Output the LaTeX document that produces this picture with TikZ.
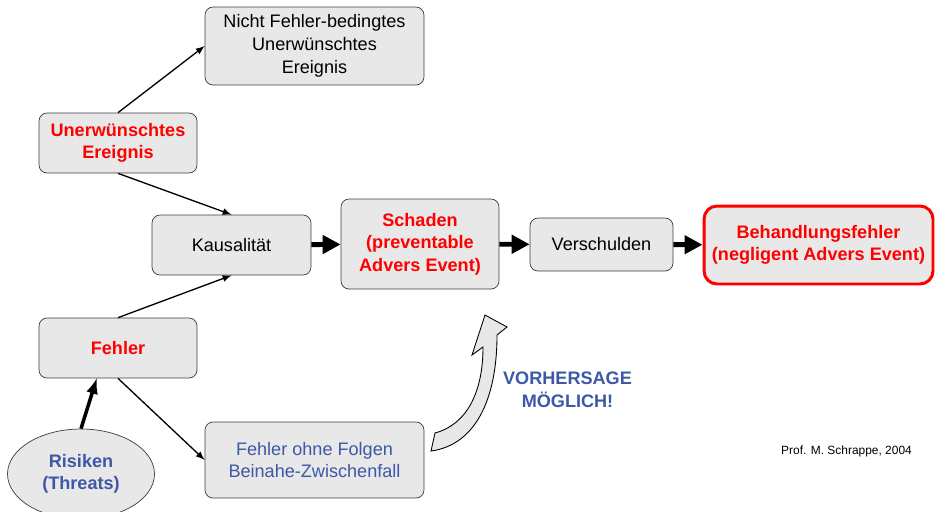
\documentclass[tikz,border=0pt]{standalone}
\usepackage{fontspec}
\setmainfont{Liberation Sans}
\usepackage{tikz}
\usetikzlibrary{arrows,arrows.meta,shapes.geometric}
\definecolor{boxgray}{RGB}{232,232,232}
\definecolor{framegray}{RGB}{60,60,60}
\definecolor{vblue}{RGB}{60,88,166}

\begin{document}
\begin{tikzpicture}[>=latex, x=0.02cm, y=-0.02cm,
		txt/.style={font=\fontsize{10.3}{13}\selectfont},
		box/.style={txt, draw=framegray, fill=boxgray, rounded corners=0.16cm, align=center, inner sep=0pt},
		warn/.style={text=red, font=\fontsize{10.3}{12.8}\selectfont\bfseries},
		hint/.style={text=vblue},
		thin arrow/.style={->, line width=0.75pt},
		fat arrow/.style={line width=2.8pt, -{Triangle[length=0.36cm,width=0.36cm]}}]
		%			\draw [help lines] (0,0) grid (935,511);
		\useasboundingbox (0,0) rectangle (935,511);
		\node [box, minimum width=4.38cm, minimum height=1.56cm] (nicht) at (314.5,46) {Nicht Fehler-bedingtes\\Unerwünschtes\\Ereignis};
		\node [box, warn, minimum width=3.16cm, minimum height=1.2cm] (unerw) at (118,143) {Unerwünschtes\\Ereignis};
		\node [box, minimum width=3.18cm, minimum height=1.2cm] (kaus) at (231.5,245) {Kausalität};
		\node [box, warn, minimum width=3.16cm, minimum height=1.8cm] (schaden) at (420,244) {Schaden\\(preventable\\Advers Event)};
		\node [box, minimum width=2.86cm, minimum height=1.06cm] (versch) at (601.5,244.5) {Verschulden};
		\node [box, warn, draw=red, line width=1.7pt, rounded corners=0.26cm, minimum width=4.58cm, minimum height=1.56cm] (behand) at (818.5,245) {Behandlungsfehler\\(negligent Advers Event)};
		\node [box, warn, minimum width=3.16cm, minimum height=1.2cm] (fehler) at (118,348) {Fehler};
		\node [box, warn, hint, ellipse, minimum width=2.94cm, minimum height=1.8cm] (risiken) at (81,474) {Risiken\\(Threats)};
		\node [box, hint, minimum width=4.38cm, minimum height=1.52cm] (ohne) at (314.5,460) {Fehler ohne Folgen\\Beinahe-Zwischenfall};
		\node [txt, hint, font=\fontsize{10.3}{12.8}\selectfont\bfseries, align=center] (vorher) at (567.5,390) {VORHERSAGE\\MÖGLICH!};
		\node [font=\fontsize{6.8}{8}\selectfont] (prof) at (846.5,451) {Prof. M. Schrappe, 2004};
		% duenne Pfeile
		\draw [thin arrow] (unerw.north) -- (nicht.west);
		\draw [thin arrow] (unerw.south) -- (kaus.north);
		\draw [thin arrow] (fehler.north) -- (kaus.south);
		\draw [thin arrow] (fehler.south) -- (ohne.west);
		\draw [->, line width=2pt] (risiken.north) -- (fehler.-125);
		% dicke Pfeile
		\draw [fat arrow] (kaus) -- (schaden);
		\draw [fat arrow] (schaden) -- (versch);
		\draw [fat arrow] (versch) -- (behand);
		% gebogener Blockpfeil
		\draw [line width=0.5pt, fill=boxgray] (431,451) .. controls (475,445) and (497,400) .. (497,335) -- (507,327) -- (485,315) -- (472,355) -- (483,347) .. controls (483,395) and (465,425) .. (435,433) -- cycle;
	\end{tikzpicture}
\end{document}
